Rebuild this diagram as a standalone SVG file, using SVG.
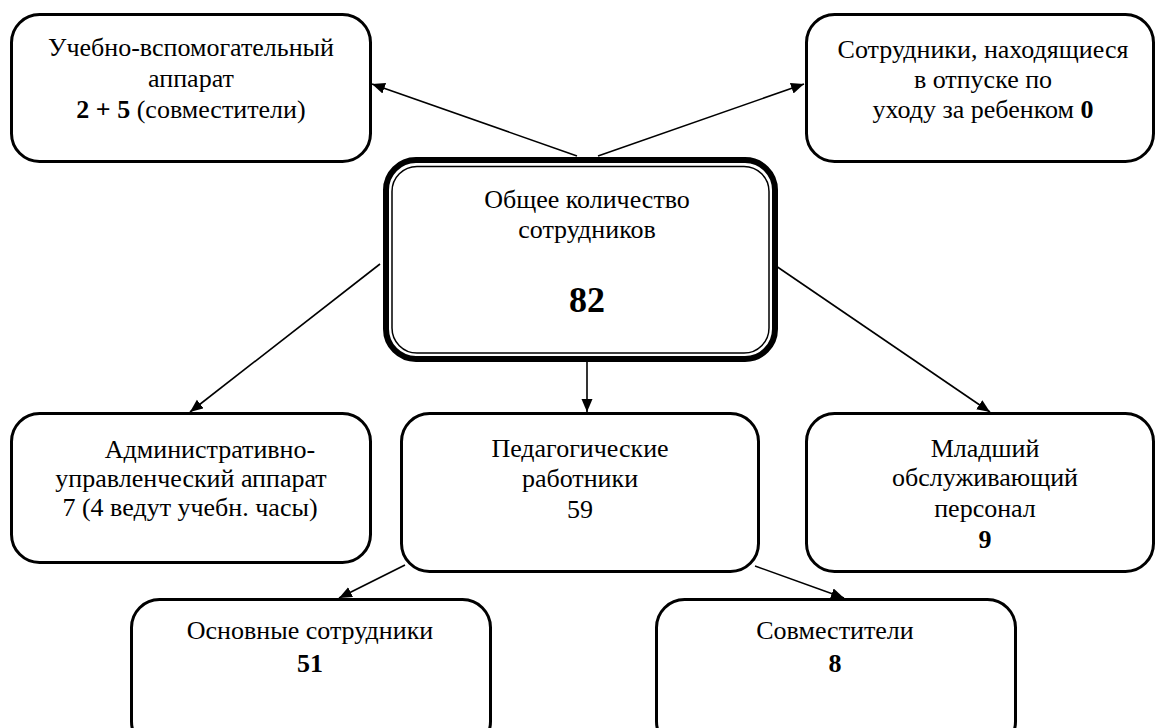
<svg xmlns="http://www.w3.org/2000/svg" width="1157" height="728" viewBox="0 0 1157 728">
<defs>
<style>
.box{fill:#fff;stroke:#000;stroke-width:3}
.t{font-family:'Liberation Serif','Times New Roman',serif;font-size:26px;fill:#000;text-anchor:middle}
.b{font-weight:bold}
.c{stroke:#000;stroke-width:1.6;fill:none;marker-end:url(#ah)}
</style>
<marker id="ah" markerUnits="userSpaceOnUse" markerWidth="14" markerHeight="12" refX="13" refY="5.5" orient="auto">
<path d="M0,0 L13,5.5 L0,11 z" fill="#000"/>
</marker>
</defs>
<rect width="1157" height="728" fill="#fff"/>
<g id="connectors">
<line class="c" x1="577" y1="156" x2="372" y2="84"/>
<line class="c" x1="598" y1="156" x2="804" y2="84"/>
<line class="c" x1="380" y1="264" x2="190" y2="412"/>
<line class="c" x1="587" y1="362" x2="587" y2="412"/>
<line class="c" x1="776" y1="266" x2="990" y2="412"/>
<line class="c" x1="405" y1="565" x2="339" y2="598"/>
<line class="c" x1="755" y1="566" x2="844" y2="598"/>
</g>
<g id="n-uchebno">
<rect class="box" x="11.5" y="14.5" width="359" height="147" rx="28"/>
<text class="t" x="191" y="56">Учебно-вспомогательный</text>
<text class="t" x="191" y="87">аппарат</text>
<text class="t" x="191" y="118"><tspan class="b">2 + 5</tspan> (совместители)</text>
</g>
<g id="n-otpusk">
<rect class="box" x="806.5" y="14.5" width="347" height="147" rx="28"/>
<text class="t" x="983" y="58">Сотрудники, находящиеся</text>
<text class="t" x="983" y="88">в отпуске по</text>
<text class="t" x="983" y="118">уходу за ребенком <tspan class="b">0</tspan></text>
</g>
<g id="n-total">
<rect x="386" y="160" width="389" height="199" rx="30" fill="#fff" stroke="#000" stroke-width="6"/>
<rect x="392" y="166.5" width="377" height="186.5" rx="25" fill="none" stroke="#000" stroke-width="1.5"/>
<text class="t" x="587" y="208">Общее количество</text>
<text class="t" x="587" y="238">сотрудников</text>
<text class="t b" x="587" y="312" style="font-size:36px">82</text>
</g>
<g id="n-admin">
<rect class="box" x="11.5" y="413.5" width="359" height="149" rx="28"/>
<text class="t" x="210" y="458">Административно-</text>
<text class="t" x="191" y="487">управленческий аппарат</text>
<text class="t" x="190" y="516">7 (4 ведут учебн. часы)</text>
</g>
<g id="n-ped">
<rect class="box" x="401.5" y="413.5" width="357" height="158" rx="28"/>
<text class="t" x="580" y="457">Педагогические</text>
<text class="t" x="580" y="487">работники</text>
<text class="t" x="580" y="518">59</text>
</g>
<g id="n-mladshiy">
<rect class="box" x="806.5" y="413.5" width="347" height="158" rx="28"/>
<text class="t" x="985" y="457">Младший</text>
<text class="t" x="985" y="486">обслуживающий</text>
<text class="t" x="985" y="517">персонал</text>
<text class="t b" x="985" y="548">9</text>
</g>
<g id="n-osnovnye">
<rect class="box" x="131.5" y="599.5" width="359" height="150" rx="28"/>
<text class="t" x="310" y="639">Основные сотрудники</text>
<text class="t b" x="310" y="672">51</text>
</g>
<g id="n-sovm">
<rect class="box" x="656.5" y="599.5" width="359" height="150" rx="28"/>
<text class="t" x="835" y="639">Совместители</text>
<text class="t b" x="835" y="672">8</text>
</g>
</svg>
